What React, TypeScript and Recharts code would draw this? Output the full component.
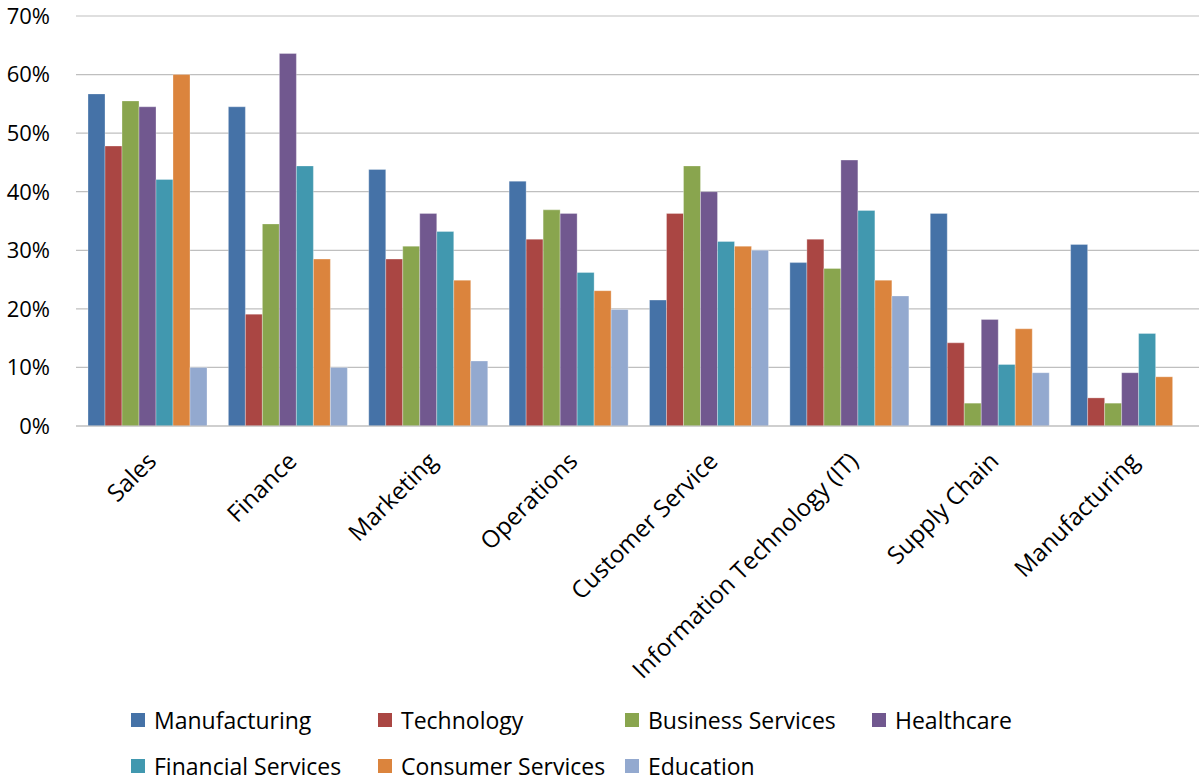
import React from "react";
import { BarChart, Bar, XAxis, YAxis, CartesianGrid, Legend } from "recharts";

const categories = [
  "Sales",
  "Finance",
  "Marketing",
  "Operations",
  "Customer Service",
  "Information Technology (IT)",
  "Supply Chain",
  "Manufacturing",
];

const manufacturing = [56.7, 54.5, 43.8, 41.8, 21.5, 27.9, 36.3, 31.0];
const technology = [47.8, 19.1, 28.5, 31.9, 36.3, 31.9, 14.2, 4.8];
const businessServices = [55.5, 34.5, 30.7, 36.9, 44.4, 26.9, 3.9, 3.9];
const healthcare = [54.5, 63.6, 36.3, 36.3, 40.0, 45.4, 18.2, 9.1];
const financialServices = [42.1, 44.4, 33.2, 26.2, 31.5, 36.8, 10.5, 15.8];
const consumerServices = [60.0, 28.5, 24.9, 23.1, 30.7, 24.9, 16.6, 8.4];
const education = [10.0, 10.0, 11.1, 19.9, 30.0, 22.2, 9.1, 0];

const yTicks = [0, 10, 20, 30, 40, 50, 60, 70];

const series = [
  { key: "Manufacturing", values: manufacturing, color: "#4572A7" },
  { key: "Technology", values: technology, color: "#AA4643" },
  { key: "Business Services", values: businessServices, color: "#89A54E" },
  { key: "Healthcare", values: healthcare, color: "#71588F" },
  { key: "Financial Services", values: financialServices, color: "#4198AF" },
  { key: "Consumer Services", values: consumerServices, color: "#DB843D" },
  { key: "Education", values: education, color: "#93A9CF" },
];

const data = categories.map((c, i) => {
  const row: Record<string, string | number> = { category: c };
  series.forEach((s) => {
    row[s.key] = s.values[i];
  });
  return row;
});

const FONT = "'Open Sans', sans-serif";

const RotatedTick = (props: any) => {
  const { x, y, payload } = props;
  return (
    <g transform={`translate(${x - 3},${y + 14})`}>
      <text
        x={0}
        y={0}
        textAnchor="end"
        dominantBaseline="hanging"
        transform="rotate(-45)"
        fontSize={24}
        fontFamily={FONT}
        fill="#000"
      >
        {payload.value}
      </text>
    </g>
  );
};

const CustomLegend = () => (
  <div
    style={{
      width: 1199,
      height: 95,
      position: "relative",
      fontFamily: FONT,
      fontSize: 23,
      color: "#000",
    }}
  >
    {series.map((s, i) => {
      const col = i % 4;
      const row = Math.floor(i / 4);
      return (
        <div
          key={s.key}
          style={{
            position: "absolute",
            left: 131 + col * 247,
            top: 19 + row * 46,
            display: "flex",
            alignItems: "center",
            whiteSpace: "nowrap",
            lineHeight: "30px",
          }}
        >
          <span
            style={{
              display: "inline-block",
              width: 14,
              height: 14,
              background: s.color,
              marginRight: 9,
            }}
          />
          <span>{s.key}</span>
        </div>
      );
    })}
  </div>
);

export default function App() {
  return (
    <div style={{ width: 1199, height: 781, background: "#fff" }}>
      <style>{`body{margin:0;}`}</style>
      <BarChart
        width={1199}
        height={781}
        data={data}
        margin={{ top: 16, right: 0, bottom: 0, left: 0 }}
        barCategoryGap={12}
        barGap={0}
      >
        <CartesianGrid vertical={false} stroke="#bfbfbf" strokeWidth={1.2} />
        <XAxis
          dataKey="category"
          interval={0}
          height={260}
          tick={<RotatedTick />}
          tickLine={false}
          axisLine={{ stroke: "#bfbfbf", strokeWidth: 1.2 }}
        />
        <YAxis
          width={76}
          domain={[0, 70]}
          ticks={yTicks}
          tickFormatter={(v: number) => `${v}%`}
          axisLine={false}
          tickLine={false}
          tickSize={6}
          tickMargin={20}
          tick={{ fontSize: 22, fontFamily: FONT, fill: "#000" }}
        />
        <Legend
          verticalAlign="bottom"
          align="left"
          content={<CustomLegend />}
          wrapperStyle={{ left: 0, bottom: 0, width: 1199, height: 95 }}
        />
        {series.map((s) => (
          <Bar
            key={s.key}
            dataKey={s.key}
            fill={s.color}
            stroke="#ffffff"
            strokeOpacity={0.5}
            strokeWidth={0.6}
            isAnimationActive={false}
          />
        ))}
      </BarChart>
    </div>
  );
}
